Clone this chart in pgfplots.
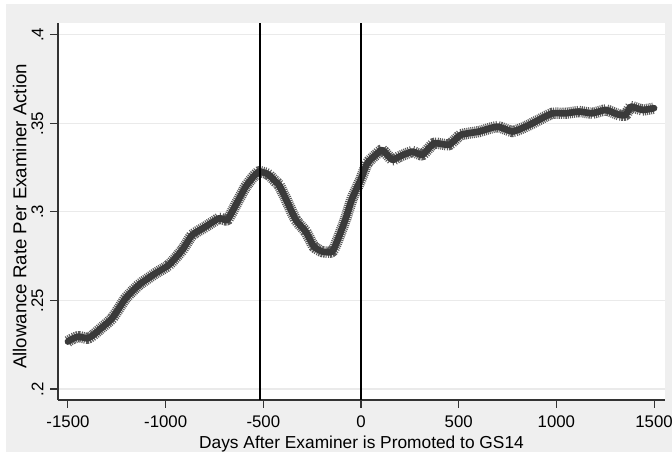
\documentclass[border=0pt]{standalone}
\usepackage{fontspec}
\setmainfont{Liberation Sans}
\usepackage{pgfplots}
\pgfplotsset{compat=1.18}
\usepackage{pgfplotstable}
\definecolor{bggray}{HTML}{EFEFEF}
\definecolor{gridgray}{HTML}{EAEAEA}
\definecolor{bandgray}{HTML}{3A3A3A}
\definecolor{spikegray}{HTML}{5A5A5A}
\definecolor{axisgray}{HTML}{333333}

\pgfplotstableread{
day val
-1500 0.2268
-1475 0.2285
-1444 0.2296
-1401 0.2286
-1370 0.2305
-1341 0.2333
-1273 0.2400
-1205 0.2512
-1137 0.2588
-1051 0.2654
-983 0.2701
-915 0.2785
-864 0.2870
-795 0.2917
-727 0.2964
-684 0.2955
-641 0.3040
-590 0.3143
-550 0.3200
-522 0.3228
-488 0.3219
-471 0.3209
-437 0.3171
-420 0.3153
-386 0.3077
-334 0.2955
-283 0.2889
-241 0.2804
-198 0.2776
-147 0.2776
-113 0.2860
-78 0.2964
-45 0.3077
-2 0.3181
32 0.3275
75 0.3322
109 0.3350
160 0.3294
195 0.3312
263 0.3341
314 0.3322
374 0.3388
451 0.3379
510 0.3435
604 0.3454
698 0.3482
775 0.3454
843 0.3482
911 0.3520
979 0.3557
1048 0.3557
1116 0.3567
1184 0.3557
1253 0.3576
1321 0.3548
1355 0.3548
1381 0.3595
1440 0.3576
1500 0.3586
}\datatable

\begin{document}
\begin{tikzpicture}
\useasboundingbox (0,0) rectangle (504pt,339pt);
\fill[bggray] (4.5pt,0) rectangle (504pt,336pt);
\begin{axis}[
  at={(43.5pt,39pt)}, anchor=south west,
  scale only axis, width=455.25pt, height=282.75pt,
  xmin=-1551, xmax=1556, ymin=0.1938, ymax=0.4067,
  axis background/.style={fill=white},
  axis x line*=bottom, axis y line*=left,
  axis line style={axisgray, line width=0.9pt},
  tick align=outside, major tick length=6pt,
  tick style={axisgray, line width=0.8pt},
  xtick={-1500,-1000,-500,0,500,1000,1500},
  xticklabels={-1500,-1000,-500,0,500,1000,1500},
  ytick={0.2,0.25,0.3,0.35,0.4},
  yticklabels={.2,.25,.3,.35,.4},
  ymajorgrids, major grid style={gridgray, line width=0.8pt},
  tick label style={font=\fontsize{12.6}{14}\selectfont},
  xticklabel style={anchor=north, yshift=-2.5pt},
  yticklabel style={rotate=90, anchor=south, yshift=1.5pt},
  xlabel={Days After Examiner is Promoted to GS14},
  ylabel={Allowance Rate Per Examiner Action},
  xlabel style={font=\fontsize{13}{15}\selectfont, at={(axis description cs:0.5,0)}, anchor=north, yshift=-23.5pt},
  ylabel style={font=\fontsize{14}{16}\selectfont, at={(axis description cs:0,0.487)}, anchor=south, yshift=20pt},
  clip=false,
]
\addplot[spikegray, line width=8.5pt, line join=round, dash pattern=on 0.75pt off 0.75pt, smooth, tension=0.3] table[x=day,y=val] {\datatable};
\addplot[bandgray, line width=5pt, line join=round, line cap=round, smooth, tension=0.3] table[x=day,y=val] {\datatable};
\addplot[black, line width=1.1pt] coordinates {(-517,0.1938) (-517,0.4067)};
\addplot[black, line width=1.1pt] coordinates {(0,0.1938) (0,0.4067)};
\end{axis}
\end{tikzpicture}
\end{document}
